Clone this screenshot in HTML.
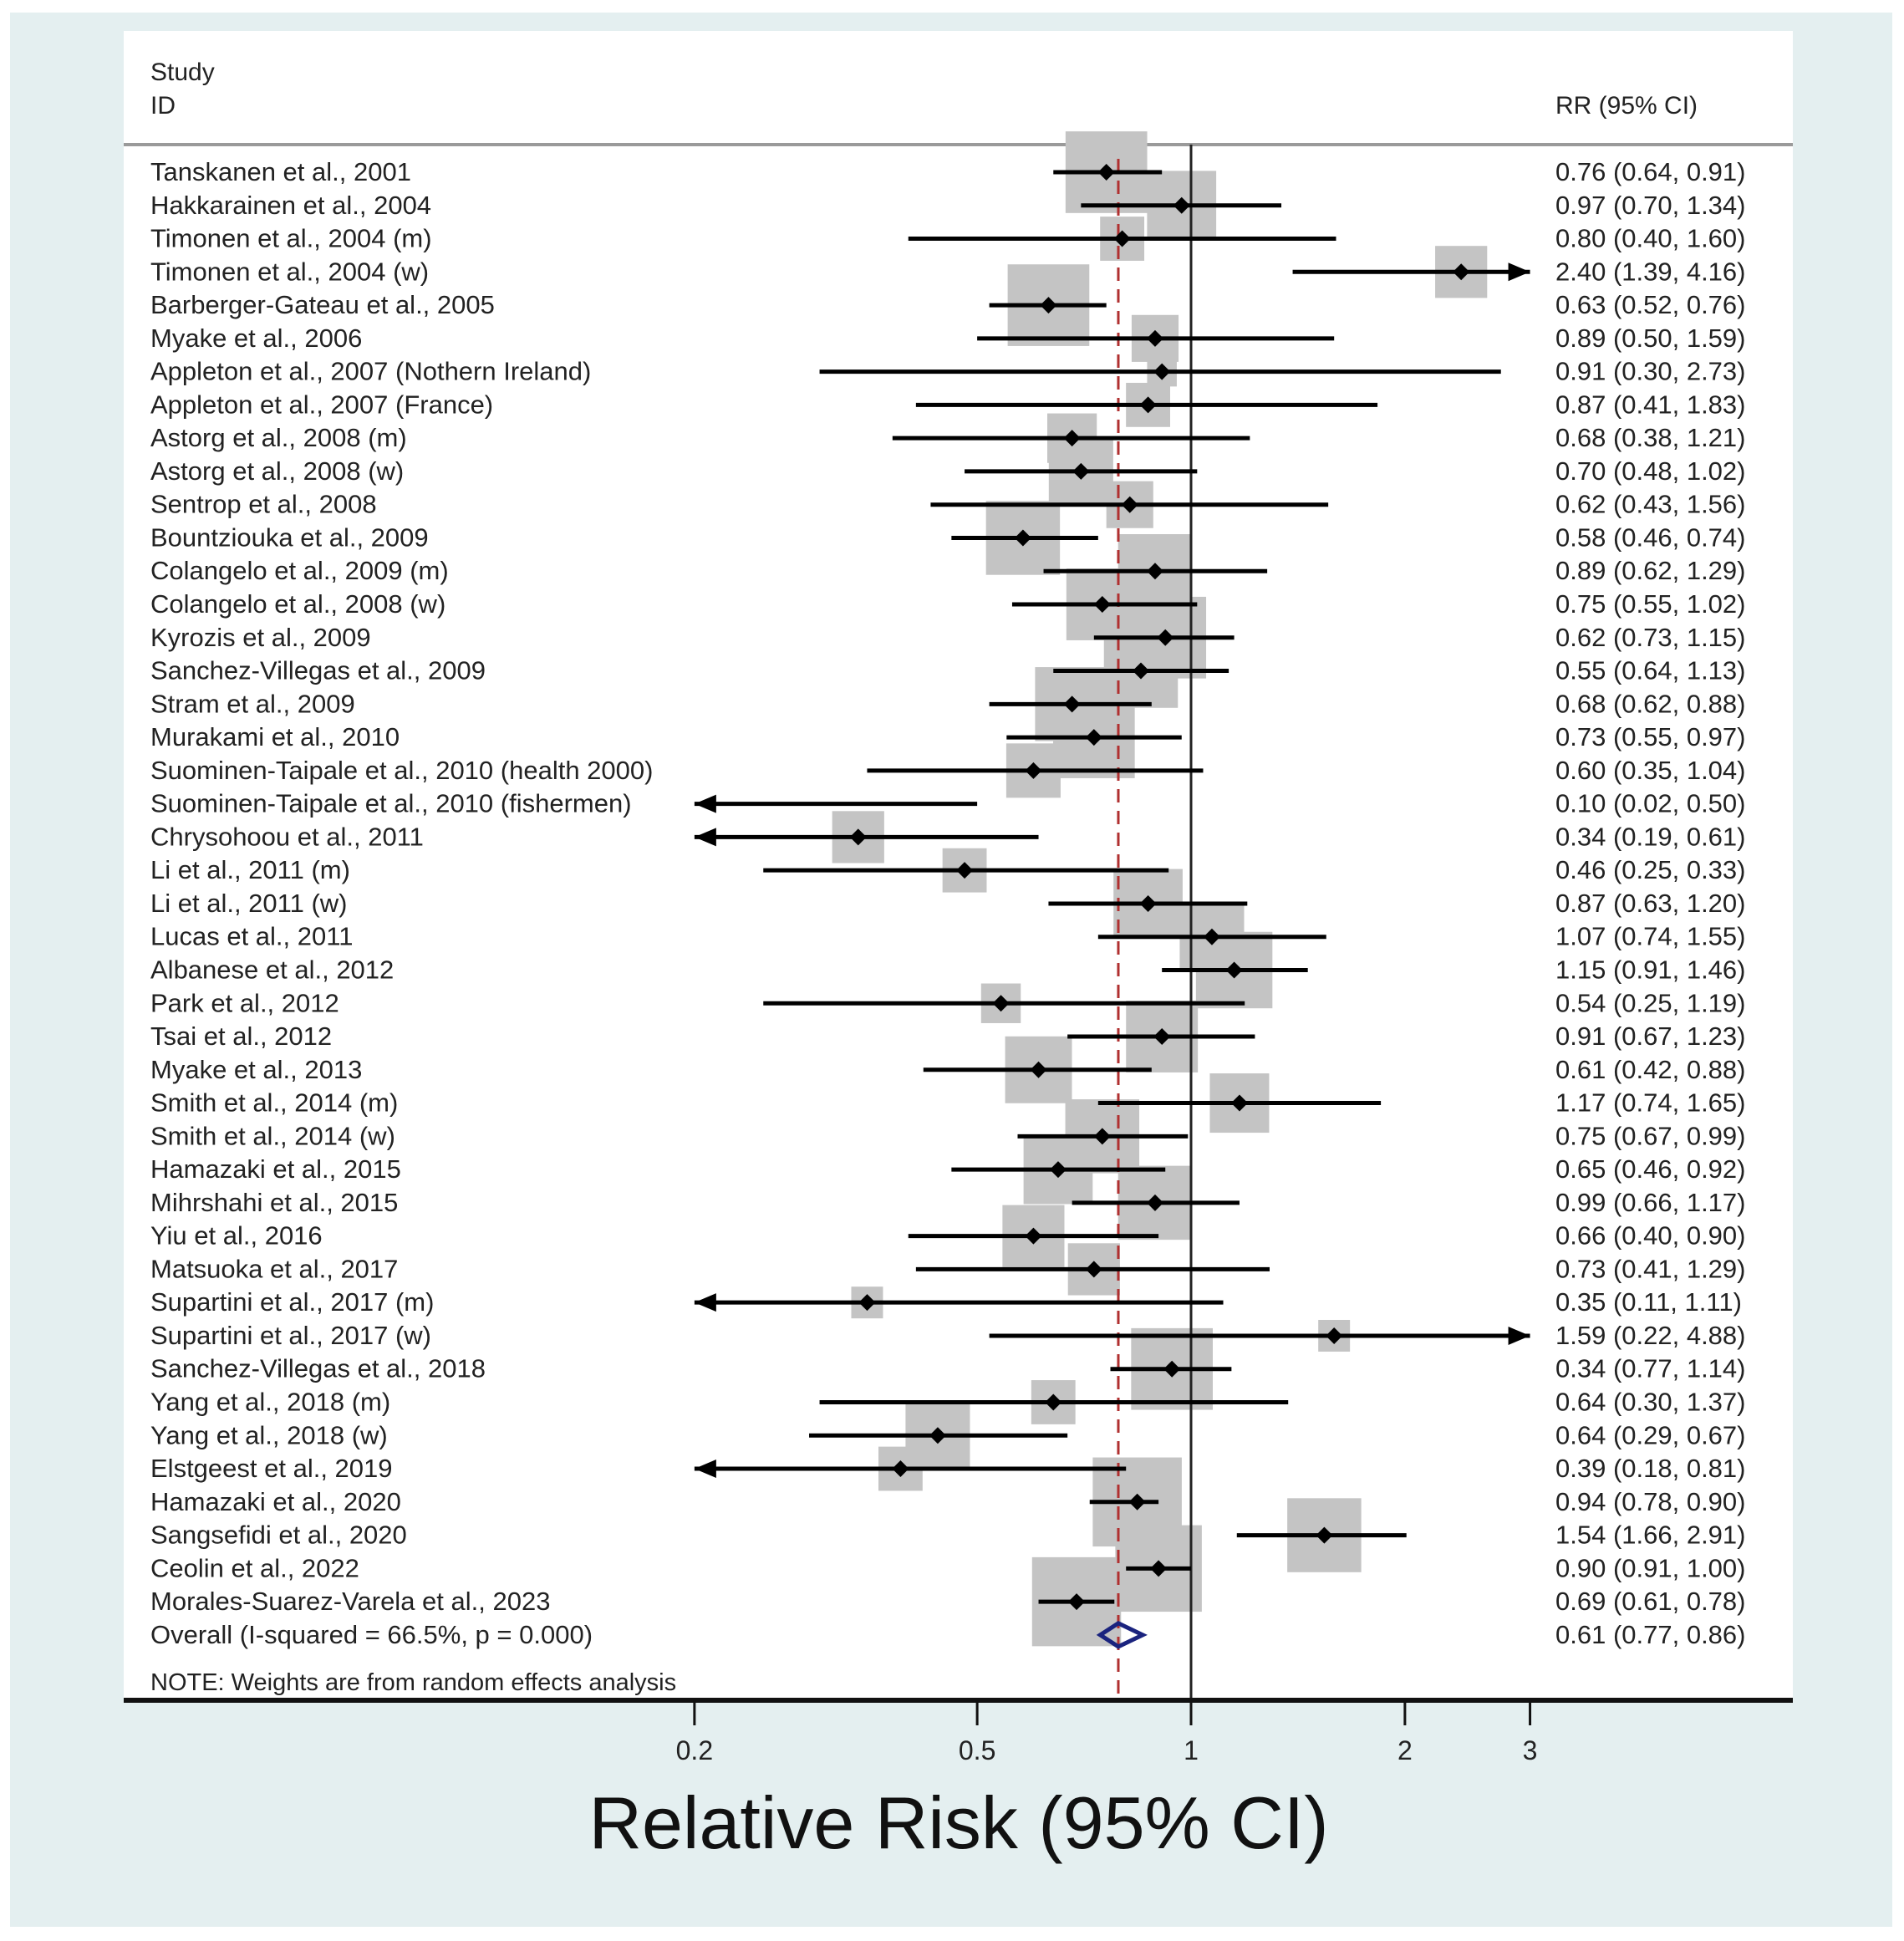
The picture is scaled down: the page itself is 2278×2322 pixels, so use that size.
<!DOCTYPE html>
<html><head><meta charset="utf-8"><style>
html,body{margin:0;padding:0;background:#fff;}
svg{display:block;font-family:"Liberation Sans",sans-serif;}
</style></head><body>
<svg id="chart" width="2278" height="2322" viewBox="0 0 2278 2322">
<rect x="12" y="15" width="2252" height="2290" fill="#e4eff0"/>
<rect x="148" y="37" width="1997" height="1997" fill="#ffffff"/>
<text x="180" y="96" font-size="30" fill="#222">Study</text>
<text x="180" y="136" font-size="30" fill="#222">ID</text>
<text x="1861" y="136" font-size="30" fill="#222">RR (95% CI)</text>
<line x1="148" y1="173" x2="2145" y2="173" stroke="#9a9a9a" stroke-width="4"/>
<g id="marks"></g>
<text x="180" y="2022" font-size="29" fill="#222">NOTE: Weights are from random effects analysis</text>
<line x1="148" y1="2034" x2="2145" y2="2034" stroke="#111" stroke-width="6"/>
<g id="ticks"></g>
<text x="1147" y="2211" font-size="88" text-anchor="middle" fill="#111">Relative Risk (95% CI)</text>
</svg>
<script>
const studies=["Tanskanen et al., 2001","Hakkarainen et al., 2004","Timonen et al., 2004 (m)","Timonen et al., 2004 (w)","Barberger-Gateau et al., 2005","Myake et al., 2006","Appleton et al., 2007 (Nothern Ireland)","Appleton et al., 2007 (France)","Astorg et al., 2008 (m)","Astorg et al., 2008 (w)","Sentrop et al., 2008","Bountziouka et al., 2009","Colangelo et al., 2009 (m)","Colangelo et al., 2008 (w)","Kyrozis et al., 2009","Sanchez-Villegas et al., 2009","Stram et al., 2009","Murakami et al., 2010","Suominen-Taipale et al., 2010 (health 2000)","Suominen-Taipale et al., 2010 (fishermen)","Chrysohoou et al., 2011","Li et al., 2011 (m)","Li et al., 2011 (w)","Lucas et al., 2011","Albanese et al., 2012","Park et al., 2012","Tsai et al., 2012","Myake et al., 2013","Smith et al., 2014 (m)","Smith et al., 2014 (w)","Hamazaki et al., 2015","Mihrshahi et al., 2015","Yiu et al., 2016","Matsuoka et al., 2017","Supartini et al., 2017 (m)","Supartini et al., 2017 (w)","Sanchez-Villegas et al., 2018","Yang et al., 2018 (m)","Yang et al., 2018 (w)","Elstgeest et al., 2019","Hamazaki et al., 2020","Sangsefidi et al., 2020","Ceolin et al., 2022","Morales-Suarez-Varela et al., 2023"];
const rr=[0.76,0.97,0.80,2.40,0.63,0.89,0.91,0.87,0.68,0.70,0.82,0.58,0.89,0.75,0.92,0.85,0.68,0.73,0.60,0.10,0.34,0.48,0.87,1.07,1.15,0.54,0.91,0.61,1.17,0.75,0.65,0.89,0.60,0.73,0.35,1.59,0.94,0.64,0.44,0.39,0.84,1.54,0.90,0.69];
const lower=[0.64,0.70,0.40,1.39,0.52,0.50,0.30,0.41,0.38,0.48,0.43,0.46,0.62,0.56,0.73,0.64,0.52,0.55,0.35,0.02,0.19,0.25,0.63,0.74,0.91,0.25,0.67,0.42,0.74,0.57,0.46,0.68,0.40,0.41,0.11,0.52,0.77,0.30,0.29,0.18,0.72,1.16,0.81,0.61];
const upper=[0.91,1.34,1.60,4.16,0.76,1.59,2.73,1.83,1.21,1.02,1.56,0.74,1.28,1.02,1.15,1.13,0.88,0.97,1.04,0.50,0.61,0.93,1.20,1.55,1.46,1.19,1.23,0.88,1.85,0.99,0.92,1.17,0.90,1.29,1.11,4.88,1.14,1.37,0.67,0.81,0.90,2.01,1.00,0.78];
const weights=[10.6,7.6,3.1,4.3,10.6,3.5,1.4,3.1,3.9,6.6,3.5,8.7,8.7,8.2,10.6,8.7,8.7,10.6,4.7,0,4.3,3.1,7.6,6.6,9.3,2.5,8.2,7.1,5.6,8.7,7.6,8.7,6.1,4.3,1.6,1.6,10.6,3.1,6.6,3.1,12.6,8.7,11.9,12.6];
const labels=["0.76 (0.64, 0.91)","0.97 (0.70, 1.34)","0.80 (0.40, 1.60)","2.40 (1.39, 4.16)","0.63 (0.52, 0.76)","0.89 (0.50, 1.59)","0.91 (0.30, 2.73)","0.87 (0.41, 1.83)","0.68 (0.38, 1.21)","0.70 (0.48, 1.02)","0.62 (0.43, 1.56)","0.58 (0.46, 0.74)","0.89 (0.62, 1.29)","0.75 (0.55, 1.02)","0.62 (0.73, 1.15)","0.55 (0.64, 1.13)","0.68 (0.62, 0.88)","0.73 (0.55, 0.97)","0.60 (0.35, 1.04)","0.10 (0.02, 0.50)","0.34 (0.19, 0.61)","0.46 (0.25, 0.33)","0.87 (0.63, 1.20)","1.07 (0.74, 1.55)","1.15 (0.91, 1.46)","0.54 (0.25, 1.19)","0.91 (0.67, 1.23)","0.61 (0.42, 0.88)","1.17 (0.74, 1.65)","0.75 (0.67, 0.99)","0.65 (0.46, 0.92)","0.99 (0.66, 1.17)","0.66 (0.40, 0.90)","0.73 (0.41, 1.29)","0.35 (0.11, 1.11)","1.59 (0.22, 4.88)","0.34 (0.77, 1.14)","0.64 (0.30, 1.37)","0.64 (0.29, 0.67)","0.39 (0.18, 0.81)","0.94 (0.78, 0.90)","1.54 (1.66, 2.91)","0.90 (0.91, 1.00)","0.69 (0.61, 0.78)"];
const overall=[0.79,0.745,0.855];
const overallLabel="0.61 (0.77, 0.86)";
const overallText="Overall  (I-squared = 66.5%, p = 0.000)";
const ticks=[0.2,0.5,1,2,3];
const tickLabels=["0.2","0.5","1","2","3"];

const NS="http://www.w3.org/2000/svg";
const X0=1425, DEC=850, MINV=0.2, MAXV=3.0;
function xs(v){return X0+DEC*Math.log10(v);}
function xc(v){return xs(Math.min(MAXV,Math.max(MINV,v)));}
const Y0=206, STEP=39.77;
function ys(i){return Y0+STEP*i;}
function mk(tag,attrs,parent){const e=document.createElementNS(NS,tag);for(const k in attrs)e.setAttribute(k,attrs[k]);parent.appendChild(e);return e;}
const g=document.getElementById('marks');
const tg=document.getElementById('ticks');
const yEnd=ys(studies.length);
studies.forEach((s,i)=>{
  if(weights[i]>0 && rr[i]>=MINV){
    const side=30*Math.sqrt(weights[i]);
    const b=mk('rect',{x:xs(rr[i])-side/2,y:ys(i)-side/2,width:side,height:side,fill:'#c4c4c4'},g);
    
    
  }
});
const ref=mk('line',{x1:xs(1),y1:173,x2:xs(1),y2:2034,stroke:'#222','stroke-width':3},g);


const dl=mk('line',{x1:xs(overall[0]),y1:190,x2:xs(overall[0]),y2:2034,stroke:'#b03030','stroke-width':3,'stroke-dasharray':'16,10'},g);


studies.forEach((s,i)=>{
  const y=ys(i);
  const t=mk('text',{x:180,y:y+10,'font-size':31,fill:'#222'},g);t.textContent=s;
  
  
  const v=mk('text',{x:1861,y:y+10,'font-size':31,fill:'#222'},g);v.textContent=labels[i];
  
  
  const x1=xc(lower[i]),x2=xc(upper[i]);
  const ln=mk('line',{x1:x1,y1:y,x2:x2,y2:y,stroke:'#000','stroke-width':5},g);
  
  
  if(upper[i]>MAXV){
    const a=mk('polygon',{points:`${x2},${y} ${x2-26},${y-11} ${x2-26},${y+11}`,fill:'#000'},g);
    
    
  }
  if(lower[i]<MINV){
    const a=mk('polygon',{points:`${x1},${y} ${x1+26},${y-11} ${x1+26},${y+11}`,fill:'#000'},g);
    
    
  }
  if(rr[i]>=MINV){
    const px=xs(rr[i]);
    const d=mk('polygon',{points:`${px},${y-10} ${px+10},${y} ${px},${y+10} ${px-10},${y}`,fill:'#000'},g);
    
    
  }
});
const yo=yEnd;
const ot=mk('text',{x:180,y:yo+10,'font-size':31,fill:'#222'},g);ot.textContent=overallText;


const ov=mk('text',{x:1861,y:yo+10,'font-size':31,fill:'#222'},g);ov.textContent=overallLabel;


const dm=mk('polygon',{points:`${xs(overall[1])},${yo} ${xs(overall[0])},${yo-14} ${xs(overall[2])},${yo} ${xs(overall[0])},${yo+14}`,fill:'none',stroke:'#1a237e','stroke-width':5},g);


ticks.forEach((t,i)=>{
  const x=xs(t);
  const l=mk('line',{x1:x,y1:2034,x2:x,y2:2064,stroke:'#111','stroke-width':3},tg);
  
  
  const tx=mk('text',{x:x,y:2105,'font-size':32,'text-anchor':'middle',fill:'#222'},tg);tx.textContent=tickLabels[i];
  
  
});
</script>
</body></html>
